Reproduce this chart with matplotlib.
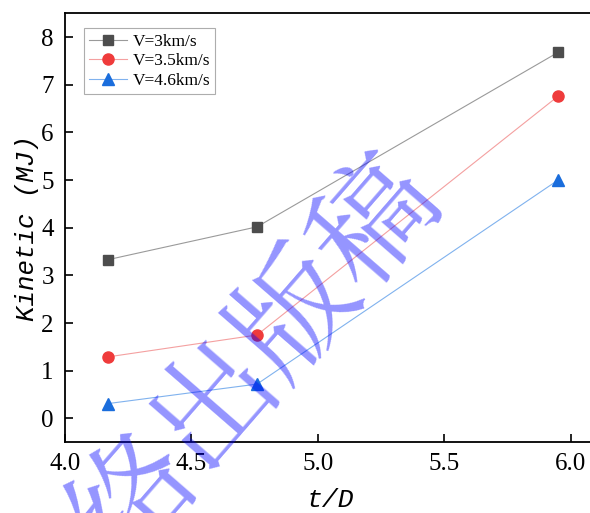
import matplotlib
matplotlib.use("Agg")
import matplotlib.pyplot as plt

# t/D positions and kinetic energy (MJ) for each impact velocity
td = [4.17, 4.76, 5.95]
v30 = [3.33, 4.02, 7.68]
v35 = [1.29, 1.75, 6.76]
v46 = [0.31, 0.72, 5.00]
labels = ["V=3km/s", "V=3.5km/s", "V=4.6km/s"]

plt.rcParams["font.family"] = "serif"
plt.rcParams["font.serif"] = ["Liberation Serif"]

fig = plt.figure(figsize=(5.9, 5.13), dpi=100)
ax = fig.add_axes([0.110, 0.138, 0.900, 0.836])

ax.plot(td, v30, color="#9a9a9a", lw=0.8, marker="s", ms=7,
        mfc="#4d4d4d", mec="#4d4d4d", label=labels[0])
ax.plot(td, v35, color="#f4a0a0", lw=0.8, marker="o", ms=8,
        mfc="#ef3b3b", mec="#ef3b3b", label=labels[1])
ax.plot(td, v46, color="#80b2ee", lw=0.8, marker="^", ms=8.5,
        mfc="#1a6ddc", mec="#1a6ddc", label=labels[2])

ax.set_xlim(4.0, 6.1)
ax.set_ylim(-0.5, 8.5)
ax.set_xticks([4.0, 4.5, 5.0, 5.5, 6.0])
ax.set_yticks(range(0, 9))
ax.tick_params(direction="in", length=6, width=1.2, labelsize=18, pad=8)
for s in ax.spines.values():
    s.set_linewidth(1.3)

ax.set_ylabel("Kinetic (MJ)", family="Liberation Mono", style="italic",
              fontsize=18.5, labelpad=2)
ax.set_xlabel("t/D", family="Liberation Mono", style="italic",
              fontsize=19, labelpad=9)

leg = ax.legend(loc="upper left", bbox_to_anchor=(0.036, 0.965),
                frameon=True, fancybox=False, edgecolor="#999999",
                handlelength=2.2, handletextpad=0.3, labelspacing=0.2,
                borderpad=0.3, borderaxespad=0,
                prop={"family": "Liberation Serif", "size": 12.5})
leg.get_frame().set_linewidth(0.8)

# diagonal watermark on top of everything
fig.text(216 / 590, 1 - 400 / 513, "网络出版稿", rotation=49,
         rotation_mode="anchor", ha="center", va="center",
         fontsize=88, color="blue", alpha=0.42,
         family=["Noto Serif CJK SC", "Noto Sans CJK SC"], zorder=10)

fig.savefig("out.png", dpi=100)
